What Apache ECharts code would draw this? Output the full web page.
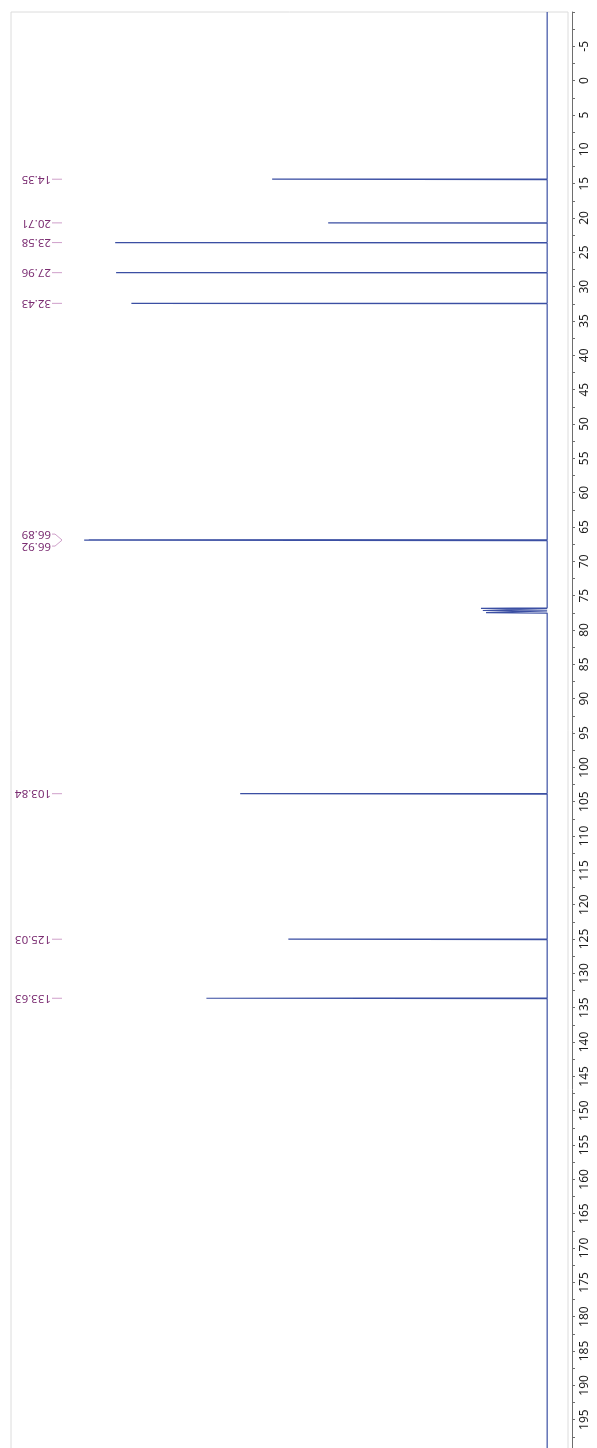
<!DOCTYPE html>
<html>
<head>
<meta charset="utf-8">
<title>13C NMR spectrum</title>
<script src="https://cdn.jsdelivr.net/npm/echarts@6/dist/echarts.min.js"></script>
<style>
  html, body { margin: 0; padding: 0; background: #ffffff; }
  #main { width: 597px; height: 1448px; }
</style>
</head>
<body>
<div id="main"></div>
<script>
// Chemical shifts (ppm) of every line in the spectrum, and their relative intensities
const peakShifts  = [14.35, 20.71, 23.58, 27.96, 32.43, 66.89, 66.92, 76.84, 77.16, 77.48, 103.84, 125.03, 133.63];
const peakHeights = [59.4,  47.3,  93.3,  93.1,  89.8,  99.0, 100.0,  14.3,  13.9,  13.2,   66.3,   55.9,   73.6];

// Picked peaks that carry a shift label
const labelShifts = [14.35, 20.71, 23.58, 27.96, 32.43, 66.89, 66.92, 103.84, 125.03, 133.63];

// Shift axis range and tick step
const ppmMin = -10;
const ppmMax = 200;
const ppmStep = 5;

// Layout / style constants
const HALF_WIDTH = 0.05;        // half line width of a peak, ppm
const INT_MIN = -4.5, INT_MAX = 115.8;
const LINE_COLOR = '#3b4fa3';
const LABEL_COLOR = '#7b2d72';
const LEADER_COLOR = '#cf9fca';
const FONT = '"Noto Sans", "DejaVu Sans", sans-serif';

// Build the trace: flat baseline with a sharp line at every shift
function buildTrace() {
  const idx = peakShifts.map((_, i) => i).sort((a, b) => peakShifts[a] - peakShifts[b]);
  const pts = [[0, ppmMin]];
  idx.forEach(i => {
    const p = peakShifts[i];
    pts.push([0, p - HALF_WIDTH]);
    pts.push([peakHeights[i], p]);
    pts.push([0, p + HALF_WIDTH]);
  });
  pts.push([0, ppmMax]);
  return pts;
}

const chart = echarts.init(document.getElementById('main'), null, { renderer: 'canvas' });

chart.setOption({
  animation: false,
  backgroundColor: '#ffffff',
  grid: {
    left: 11,
    top: 12,
    right: 29,
    height: 1442,
    outerBoundsMode: 'none',
    containLabel: false,
    show: true,
    borderColor: '#dcdcdc',
    borderWidth: 1,
    backgroundColor: 'transparent'
  },
  xAxis: {
    type: 'value',
    inverse: true,
    min: INT_MIN,
    max: INT_MAX,
    show: false
  },
  yAxis: {
    type: 'value',
    position: 'right',
    offset: 4,
    inverse: true,
    min: ppmMin,
    max: ppmMax,
    interval: ppmStep,
    axisLine: { show: true, onZero: false, lineStyle: { color: '#6e6e6e', width: 1 } },
    axisTick: { show: true, length: 3, lineStyle: { color: '#6e6e6e' } },
    minorTick: { show: true, splitNumber: 2, length: 3, lineStyle: { color: '#6e6e6e' } },
    splitLine: { show: false },
    axisLabel: {
      rotate: 90,
      margin: 7,
      color: '#1e1e1e',
      fontSize: 12,
      fontFamily: FONT,
      showMinLabel: false,
      showMaxLabel: false
    }
  },
  series: [{
    type: 'line',
    data: buildTrace(),
    showSymbol: false,
    symbol: 'none',
    lineStyle: { color: LINE_COLOR, width: 1.2 },
    silent: true
  }]
});

// Shift labels: upside-down text on the left edge with a short leader to the peak row
function drawLabels() {
  const toPx = v => chart.convertToPixel({ gridIndex: 0 }, v);
  const left = toPx([INT_MAX, 0])[0];
  const ys = labelShifts.map(v => toPx([0, v])[1]);

  // spread labels that would overlap, keeping them centred on their cluster
  const GAP = 12;
  const placed = ys.slice();
  let i = 0;
  while (i < ys.length) {
    let j = i;
    while (j + 1 < ys.length && ys[j + 1] - ys[j] < GAP) j++;
    if (j > i) {
      const mid = (ys[i] + ys[j]) / 2;
      const n = j - i + 1;
      for (let k = 0; k < n; k++) placed[i + k] = mid + (k - (n - 1) / 2) * GAP;
    }
    i = j + 1;
  }

  const anchorX = left + 40;
  const leadX0 = left + 41;
  const leadX1 = left + 51;
  const elements = [];
  labelShifts.forEach((v, k) => {
    elements.push({
      type: 'text',
      x: anchorX,
      y: placed[k],
      rotation: Math.PI,
      silent: true,
      style: {
        text: v.toFixed(2),
        fill: LABEL_COLOR,
        font: '11.5px ' + FONT,
        align: 'left',
        verticalAlign: 'middle'
      }
    });
    const moved = Math.abs(placed[k] - ys[k]) > 0.5;
    elements.push({
      type: 'polyline',
      silent: true,
      shape: {
        points: moved
          ? [[leadX0, placed[k]], [leadX0 + 3, placed[k]], [leadX1, ys[k]]]
          : [[leadX0, ys[k]], [leadX1, ys[k]]]
      },
      style: { stroke: LEADER_COLOR, lineWidth: 1, fill: null }
    });
  });
  chart.setOption({ graphic: { elements: elements } });
}

drawLabels();
</script>
</body>
</html>
